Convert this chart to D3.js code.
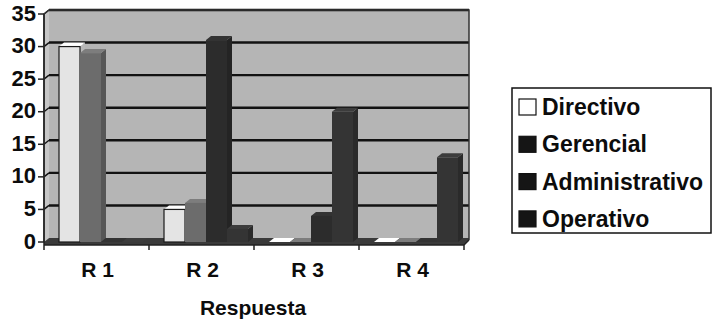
<!DOCTYPE html>
<html>
<head>
<meta charset="utf-8">
<script src="https://cdn.jsdelivr.net/npm/d3@7"></script>
<style>
  html, body { margin: 0; padding: 0; background: #ffffff; }
  svg { display: block; }
  text { font-family: "Liberation Sans", Arial, Helvetica, sans-serif; font-weight: bold; fill: #0c0c0c; }
</style>
</head>
<body>
<svg id="chart" width="713" height="324"></svg>
<script>
// Responses per category, one array per staff level
const categories = ["R 1", "R 2", "R 3", "R 4"];
const series = ["Directivo", "Gerencial", "Administrativo", "Operativo"];
const directivo = [30, 5, 0, 0];
const gerencial = [29, 6, 0, 0];
const administrativo = [0, 31, 4, 0];
const operativo = [0, 2, 20, 13];
const yTicks = [0, 5, 10, 15, 20, 25, 30, 35];
const xTitle = "Respuesta";

const values = [directivo, gerencial, administrativo, operativo];
const fills = ["#e4e4e4", "#6c6c6c", "#2c2c2c", "#343434"];
const legendFills = ["#ffffff", "#151515", "#151515", "#151515"];

const svg = d3.select("#chart");

// Plot frame and 3D depth offset
const plotLeft = 44, plotRight = 464, plotBottom = 242, plotTop = 14;
const dx = 5, dy = -4;
const floorFront = plotBottom + 3;

const x = d3.scaleBand().domain(categories).range([plotLeft, plotRight]).padding(0);
const inner = d3.scaleBand().domain(series).range([15, 99]).padding(0);
const y = d3.scaleLinear().domain([0, 35]).range([plotBottom, plotTop]);

const g = svg.append("g");

// Back wall
g.append("rect")
  .attr("x", plotLeft + dx).attr("y", plotTop + dy)
  .attr("width", plotRight - plotLeft).attr("height", plotBottom - plotTop)
  .attr("fill", "#b5b5b5");

// Side wall
g.append("path")
  .attr("d", `M${plotLeft},${plotTop} L${plotLeft + dx},${plotTop + dy} L${plotLeft + dx},${plotBottom + dy} L${plotLeft},${plotBottom} Z`)
  .attr("fill", "#c6c6c6");

// Floor slab
g.append("path")
  .attr("d", `M${plotLeft},${floorFront} L${plotLeft},${plotBottom} L${plotLeft + dx},${plotBottom + dy} L${plotRight + dx},${plotBottom + dy} L${plotRight + dx},${plotBottom + dy + 2} L${plotRight},${floorFront} Z`)
  .attr("fill", "#3a3a3a");

// Gridlines on the back wall, plus their slanted part on the side wall
yTicks.filter(v => v > 0).forEach(v => {
  g.append("line")
    .attr("x1", plotLeft + dx).attr("x2", plotRight + dx)
    .attr("y1", y(v) + dy).attr("y2", y(v) + dy)
    .attr("stroke", "#121212").attr("stroke-width", 2.4);
  g.append("line")
    .attr("x1", plotLeft).attr("x2", plotLeft + dx)
    .attr("y1", y(v)).attr("y2", y(v) + dy)
    .attr("stroke", "#121212").attr("stroke-width", 1.5);
});

// Wall outline
g.append("path")
  .attr("d", `M${plotLeft},${plotBottom} L${plotLeft},${plotTop} L${plotLeft + dx},${plotTop + dy} L${plotRight + dx},${plotTop + dy} L${plotRight + dx},${plotBottom + dy + 2}`)
  .attr("fill", "none").attr("stroke", "#333").attr("stroke-width", 1.5);

// 3D columns, drawn left to right
const shade = (c, k) => d3.color(c)[k > 0 ? "brighter" : "darker"](Math.abs(k)).formatHex();
const bars = [];
categories.forEach((c, ci) => {
  series.forEach((s, si) => {
    bars.push({ c, s, si, v: values[si][ci] });
  });
});

const barG = g.append("g");
bars.forEach(d => {
  const x0 = x(d.c) + inner(d.s);
  const w = inner.bandwidth();
  const y0 = y(d.v);
  const col = fills[d.si];
  const bg = barG.append("g");
  // right side face
  bg.append("path")
    .attr("d", `M${x0 + w},${plotBottom} L${x0 + w + dx},${plotBottom + dy} L${x0 + w + dx},${y0 + dy} L${x0 + w},${y0} Z`)
    .attr("fill", shade(col, -0.6));
  // top face
  bg.append("path")
    .attr("d", `M${x0},${y0} L${x0 + dx},${y0 + dy} L${x0 + w + dx},${y0 + dy} L${x0 + w},${y0} Z`)
    .attr("fill", shade(col, 0.4));
  // front face
  bg.append("rect")
    .attr("x", x0).attr("y", y0)
    .attr("width", w).attr("height", plotBottom - y0)
    .attr("fill", col)
    .attr("stroke", d.si === 0 ? "#1a1a1a" : "none")
    .attr("stroke-width", 1.2);
});

// Y axis
const yAxis = g.append("g");
yAxis.append("line")
  .attr("x1", plotLeft).attr("x2", plotLeft).attr("y1", plotTop).attr("y2", floorFront)
  .attr("stroke", "#222").attr("stroke-width", 1.5);
yAxis.selectAll("line.tick").data(yTicks).enter().append("line")
  .attr("class", "tick")
  .attr("x1", plotLeft - 6).attr("x2", plotLeft)
  .attr("y1", d => y(d)).attr("y2", d => y(d))
  .attr("stroke", "#222").attr("stroke-width", 1.5);
yAxis.selectAll("text").data(yTicks).enter().append("text")
  .attr("x", plotLeft - 8).attr("y", d => y(d) - 1)
  .attr("text-anchor", "end").attr("dominant-baseline", "central")
  .style("font-size", "22px")
  .text(d => d);

// X axis
const xAxis = g.append("g");
xAxis.append("line")
  .attr("x1", plotLeft).attr("x2", plotRight).attr("y1", floorFront).attr("y2", floorFront)
  .attr("stroke", "#222").attr("stroke-width", 1.5);
xAxis.append("line")
  .attr("x1", plotRight).attr("x2", plotRight + dx).attr("y1", floorFront).attr("y2", plotBottom + dy + 2)
  .attr("stroke", "#222").attr("stroke-width", 1.5);
const bounds = categories.map(c => x(c)).concat([plotRight]);
xAxis.selectAll("line.tick").data(bounds).enter().append("line")
  .attr("class", "tick")
  .attr("x1", d => d).attr("x2", d => d)
  .attr("y1", floorFront).attr("y2", floorFront + 5)
  .attr("stroke", "#222").attr("stroke-width", 1.5);
xAxis.selectAll("text").data(categories).enter().append("text")
  .attr("x", d => x(d) + x.bandwidth() / 2 + 1)
  .attr("y", 277)
  .attr("text-anchor", "middle")
  .style("font-size", "21px")
  .text(d => d);

svg.append("text")
  .attr("x", 253).attr("y", 315)
  .attr("text-anchor", "middle")
  .style("font-size", "21px")
  .text(xTitle);

// Legend
const lg = svg.append("g");
lg.append("rect")
  .attr("x", 512).attr("y", 88).attr("width", 199).attr("height", 145)
  .attr("fill", "#fff").attr("stroke", "#111").attr("stroke-width", 1.5);
const rows = lg.selectAll("g.row").data(series).enter().append("g")
  .attr("class", "row")
  .attr("transform", (d, i) => `translate(519, ${107 + i * 37.3})`);
rows.append("rect")
  .attr("x", 0).attr("y", -8).attr("width", 17).attr("height", 16)
  .attr("fill", (d, i) => legendFills[i])
  .attr("stroke", "#111").attr("stroke-width", 1.2);
rows.append("text")
  .attr("x", 23).attr("y", 0)
  .attr("dominant-baseline", "central")
  .style("font-size", "23px")
  .text(d => d);
</script>
</body>
</html>
